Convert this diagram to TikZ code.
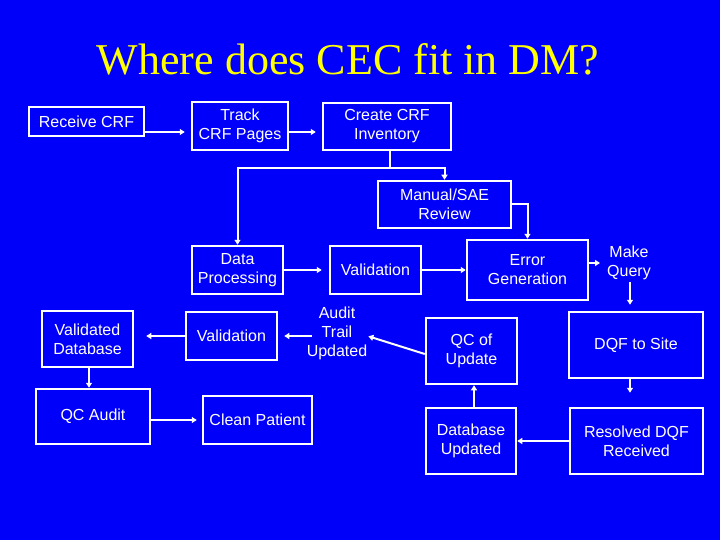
\documentclass[tikz,border=0pt]{standalone}
\usepackage{fontspec}
\setmainfont{Liberation Sans}
\newfontfamily\titlefont{Liberation Serif}
\usetikzlibrary{arrows.meta,calc}
\definecolor{bg}{RGB}{0,0,250}
\definecolor{ttl}{RGB}{255,255,0}
\begin{document}
\begin{tikzpicture}[x=1pt,y=-1pt,
  box/.style={draw=white, line width=2.5pt, text=white, align=center, inner sep=0pt, font=\fontsize{16}{19}\selectfont},
  lbl/.style={text=white, align=center, inner sep=0pt, font=\fontsize{16}{19}\selectfont},
  conn/.style={draw=white, line width=2pt},
  arr/.style={conn, -{Triangle[length=5pt,width=6pt]}}]
\fill[bg] (0,0) rectangle (720,540);
\useasboundingbox (0,0) rectangle (720,540);
\node[font=\titlefont\fontsize{44}{48}\selectfont, text=ttl, anchor=base, inner sep=0pt] (title) at (348,75) {Where does CEC fit in DM?};
% boxes
\node[box, minimum width=115pt, minimum height=29pt] (recv) at (86.5,121.5) {Receive CRF};
\node[box, minimum width=96pt, minimum height=48pt] (track) at (240,126) {Track\\CRF Pages};
\node[box, minimum width=128pt, minimum height=47pt] (create) at (387,126.5) {Create CRF\\Inventory};
\node[box, minimum width=133pt, minimum height=47pt] (manual) at (444.5,204.5) {Manual/SAE\\Review};
\node[box, minimum width=91pt, minimum height=48pt] (dp) at (237.5,270) {Data\\Processing};
\node[box, minimum width=91pt, minimum height=48pt] (val1) at (375.5,270) {Validation};
\node[box, minimum width=121pt, minimum height=60pt] (err) at (527.5,270) {Error\\Generation};
\node[lbl] (mq) at (629,263) {Make\\Query};
\node[box, minimum width=134pt, minimum height=66pt] (dqf) at (636,345) {DQF to Site};
\node[box, minimum width=91pt, minimum height=66pt] (qcu) at (471.5,351) {QC of\\Update};
\node[lbl] (audit) at (337,333) {Audit\\Trail\\Updated};
\node[box, minimum width=91pt, minimum height=48pt] (val2) at (231.5,336) {Validation};
\node[box, minimum width=91pt, minimum height=56pt] (vdb) at (87.5,339) {Validated\\Database};
\node[box, minimum width=114pt, minimum height=55pt] (qca) at (93,416.5) {QC Audit};
\node[box, minimum width=109pt, minimum height=48pt] (clean) at (257.5,420) {Clean Patient};
\node[box, minimum width=90pt, minimum height=66pt] (dbu) at (471,441) {Database\\Updated};
\node[box, minimum width=133pt, minimum height=66pt] (res) at (636.5,441) {Resolved DQF\\Received};
% connectors
\draw[arr, shorten >=6pt] ([yshift=-10.5pt]recv.east) -- ([yshift=-6pt]track.west);
\draw[arr, shorten >=6pt] ([yshift=-6pt]track.east) -- ([yshift=-5.5pt]create.west);
\coordinate (j) at (390,168);
\draw[conn] (create.south -| j) -- (j);
\draw[arr] (j) -| (manual.north);
\draw[arr] (j) -| (dp.north);
\draw[arr] (manual.east) -| (err.north);
\draw[arr, shorten >=7pt] (dp.east) -- (val1.west);
\draw[arr] (val1.east) -- (err.west);
\draw[arr, shorten >=7pt] ([yshift=7pt]err.east) -- (mq.west);
\draw[arr, shorten <=2pt, shorten >=6pt] ([xshift=1pt]mq.south) -- ([xshift=1pt]mq.south |- dqf.north);
\draw[arr, shorten >=14pt] ([xshift=1pt]mq.south |- dqf.south) -- ([xshift=1pt]mq.south |- res.north);
\draw[arr] (res.west) -- (dbu.east);
\draw[arr] ([xshift=3pt]dbu.north) -- ([xshift=3pt]dbu.north |- qcu.south);
\draw[arr, shorten >=1pt] ([yshift=-3pt]qcu.west) -- ([yshift=-3pt]audit.east);
\draw[arr, shorten >=6pt] ([xshift=5pt,yshift=-3pt]audit.west) -- (val2.east);
\draw[arr, shorten >=12pt] (val2.west) -- (val2.west -| vdb.east);
\draw[arr] ([xshift=1.5pt]vdb.south) -- ([xshift=1.5pt]vdb.south |- qca.north);
\draw[arr, shorten >=5pt] (qca.east |- clean.west) -- (clean.west);
\end{tikzpicture}
\end{document}
